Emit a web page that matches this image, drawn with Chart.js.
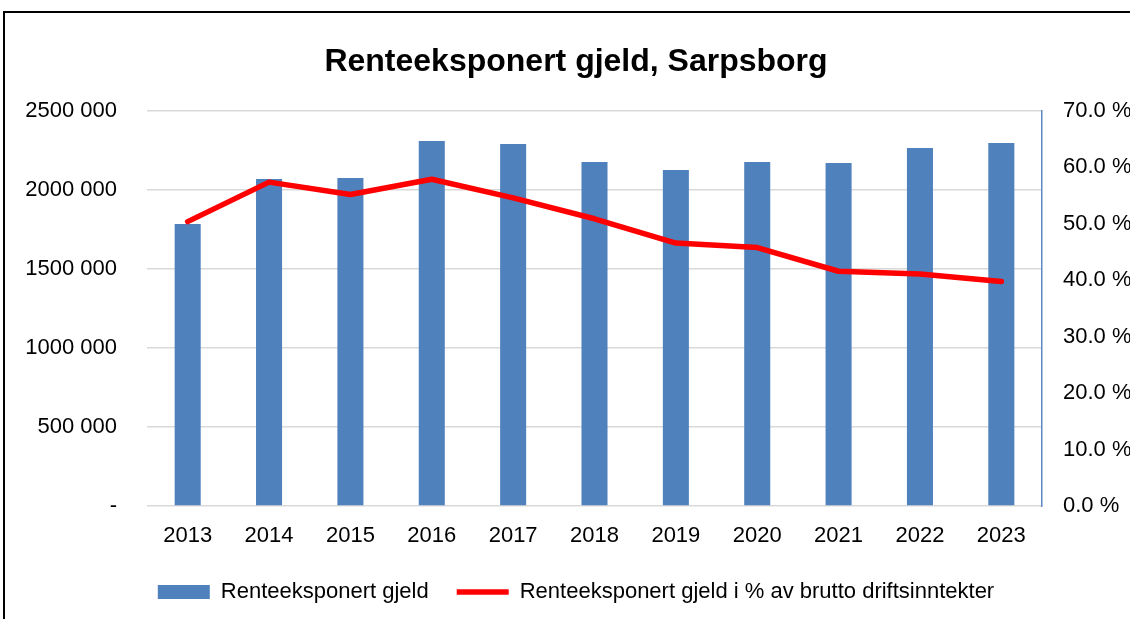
<!DOCTYPE html>
<html>
<head>
<meta charset="utf-8">
<script src="https://cdn.jsdelivr.net/npm/chart.js@4/dist/chart.umd.min.js"></script>
<style>
    html, body { margin: 0; padding: 0; background: #fff; overflow: hidden; }
    #wrap { position: relative; width: 1130px; height: 619px; overflow: hidden; }
    #frame {
        position: absolute; left: 3px; top: 11px; width: 2000px; height: 2000px;
        border: 2px solid #000; pointer-events: none;
    }
</style>
</head>
<body>
<div id="wrap">
    <!-- canvas is a bit wider than the window: the reference is a crop of a wider chart -->
    <canvas id="debtChart" width="1152" height="619"></canvas>
    <div id="frame"></div>
</div>
<script>
// Values
const years = ['2013', '2014', '2015', '2016', '2017', '2018', '2019', '2020', '2021', '2022', '2023'];
const debt = [1785000, 2070000, 2076000, 2310000, 2291000, 2177000, 2127000, 2177000, 2171000, 2266000, 2297000];
const debtPercent = [50.4, 57.4, 55.2, 57.9, 54.6, 50.9, 46.6, 45.8, 41.6, 41.1, 39.8];

const fontFamily = '"Liberation Sans", Arial, sans-serif';

function formatDebt(v) {
    if (v === 0) return '-';
    const th = Math.floor(v / 1000);
    const rest = String(v % 1000).padStart(3, '0');
    return th + ' ' + rest;
}

const ctx = document.getElementById('debtChart').getContext('2d');
const debtChart = new Chart(ctx, {
    type: 'bar',
    data: {
        labels: years,
        datasets: [{
            label: 'Renteeksponert gjeld',
            data: debt,
            backgroundColor: '#4F81BD',
            borderWidth: 0,
            categoryPercentage: 1,
            barPercentage: 0.32,
            pointStyle: 'rect',
            yAxisID: 'y',
            order: 1
        }, {
            type: 'line',
            label: 'Renteeksponert gjeld i % av brutto driftsinntekter',
            data: debtPercent,
            borderColor: '#FF0000',
            backgroundColor: '#FF0000',
            borderWidth: 5.5,
            borderCapStyle: 'round',
            borderJoinStyle: 'round',
            tension: 0,
            pointRadius: 0,
            pointHoverRadius: 0,
            pointStyle: 'line',
            yAxisID: 'y1',
            order: 0
        }]
    },
    options: {
        responsive: false,
        animation: false,
        layout: {
            padding: { left: 0, right: 0, top: 0, bottom: 6 }
        },
        plugins: {
            title: {
                display: true,
                text: 'Renteeksponert gjeld, Sarpsborg',
                color: '#000',
                font: { family: fontFamily, size: 32, weight: 'bold' },
                padding: { top: 43, bottom: 29.6 }
            },
            legend: {
                position: 'bottom',
                labels: {
                    color: '#000',
                    font: { family: fontFamily, size: 22 },
                    usePointStyle: true,
                    pointStyleWidth: 52,
                    boxHeight: 14,
                    padding: 28,
                    sort: (a, b) => a.datasetIndex - b.datasetIndex
                }
            },
            tooltip: { enabled: false }
        },
        scales: {
            x: {
                grid: { display: false, drawTicks: false },
                border: { display: false },
                ticks: {
                    color: '#000',
                    font: { family: fontFamily, size: 22 },
                    padding: 17,
                    maxRotation: 0
                },
                afterFit: function(scale) { scale.height = 47; }
            },
            y: {
                position: 'left',
                min: 0,
                max: 2500000,
                grid: { color: '#D9D9D9', lineWidth: 1.5, drawTicks: false },
                border: { display: false },
                ticks: {
                    stepSize: 500000,
                    color: '#000',
                    font: { family: fontFamily, size: 22 },
                    padding: 30,
                    callback: function(value) { return formatDebt(value); }
                },
                afterFit: function(scale) { scale.width = 147; }
            },
            y1: {
                position: 'right',
                min: 0,
                max: 70,
                grid: { display: false, drawTicks: false },
                border: { display: true, color: '#5B87C5', width: 1.5 },
                ticks: {
                    stepSize: 10,
                    color: '#000',
                    font: { family: fontFamily, size: 22 },
                    padding: 21,
                    callback: function(value) { return value.toFixed(1) + ' %'; }
                },
                afterFit: function(scale) { scale.width = 110; }
            }
        }
    }
});
</script>
</body>
</html>
